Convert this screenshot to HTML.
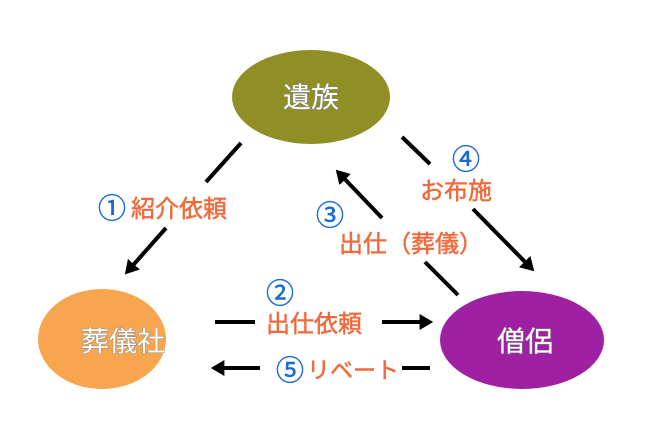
<!DOCTYPE html>
<html><head><meta charset="utf-8"><style>
html,body{margin:0;padding:0;background:#fff;}
svg{display:block}
text{font-family:"Liberation Sans","Noto Sans CJK JP",sans-serif;}
</style></head><body>
<svg width="650" height="432" viewBox="0 0 650 432">
<defs>
<marker id="a" markerWidth="4" markerHeight="4" refX="2.6" refY="2" orient="auto" markerUnits="strokeWidth">
<path d="M0,0 L3.4,2 L0,4 z" fill="#000"/></marker>
</defs>
<ellipse cx="311" cy="97" rx="79" ry="47" fill="#8f8f26"/>
<ellipse cx="102" cy="339" rx="64" ry="50" fill="#f8a54f"/>
<ellipse cx="522" cy="340" rx="82" ry="49" fill="#a020a3"/>
<g font-size="28" fill="#fff" text-anchor="middle" style="paint-order:stroke" stroke="#888" stroke-width="1">
<text x="311" y="107">遺族</text>
<text x="123" y="351">葬儀社</text>
<text x="525" y="351">僧侶</text>
</g>
<g stroke="#000" stroke-width="4" fill="none">
<line x1="241" y1="143" x2="206" y2="182"/>
<line x1="166" y1="228" x2="127" y2="272" marker-end="url(#a)"/>
<line x1="402" y1="137" x2="430" y2="164"/>
<line x1="473" y1="209" x2="532" y2="269" marker-end="url(#a)"/>
<line x1="458" y1="295" x2="425" y2="262"/>
<line x1="382" y1="218" x2="338" y2="172" marker-end="url(#a)"/>
<line x1="215" y1="322" x2="255" y2="322"/>
<line x1="382" y1="322" x2="430" y2="322" marker-end="url(#a)"/>
<line x1="430" y1="368" x2="402" y2="368"/>
<line x1="260" y1="368" x2="214" y2="368" marker-end="url(#a)"/>
</g>
<g font-size="24" fill="#f06a3c" stroke="#f06a3c" stroke-width="0.5">
<text x="131" y="217">紹介依頼</text>
<text x="420" y="199">お布施</text>
<text x="339" y="252">出仕（葬儀）</text>
<text x="266" y="332">出仕依頼</text>
<text x="307" y="378" font-size="23">リベート</text>
</g>
<g font-size="28" fill="#1a6ad6" text-anchor="middle" stroke="#1a6ad6" stroke-width="0.5">
<text x="112" y="218">①</text>
<text x="466" y="169">④</text>
<text x="330" y="225">③</text>
<text x="280" y="303">②</text>
<text x="290" y="380">⑤</text>
</g>
</svg>
</body></html>
